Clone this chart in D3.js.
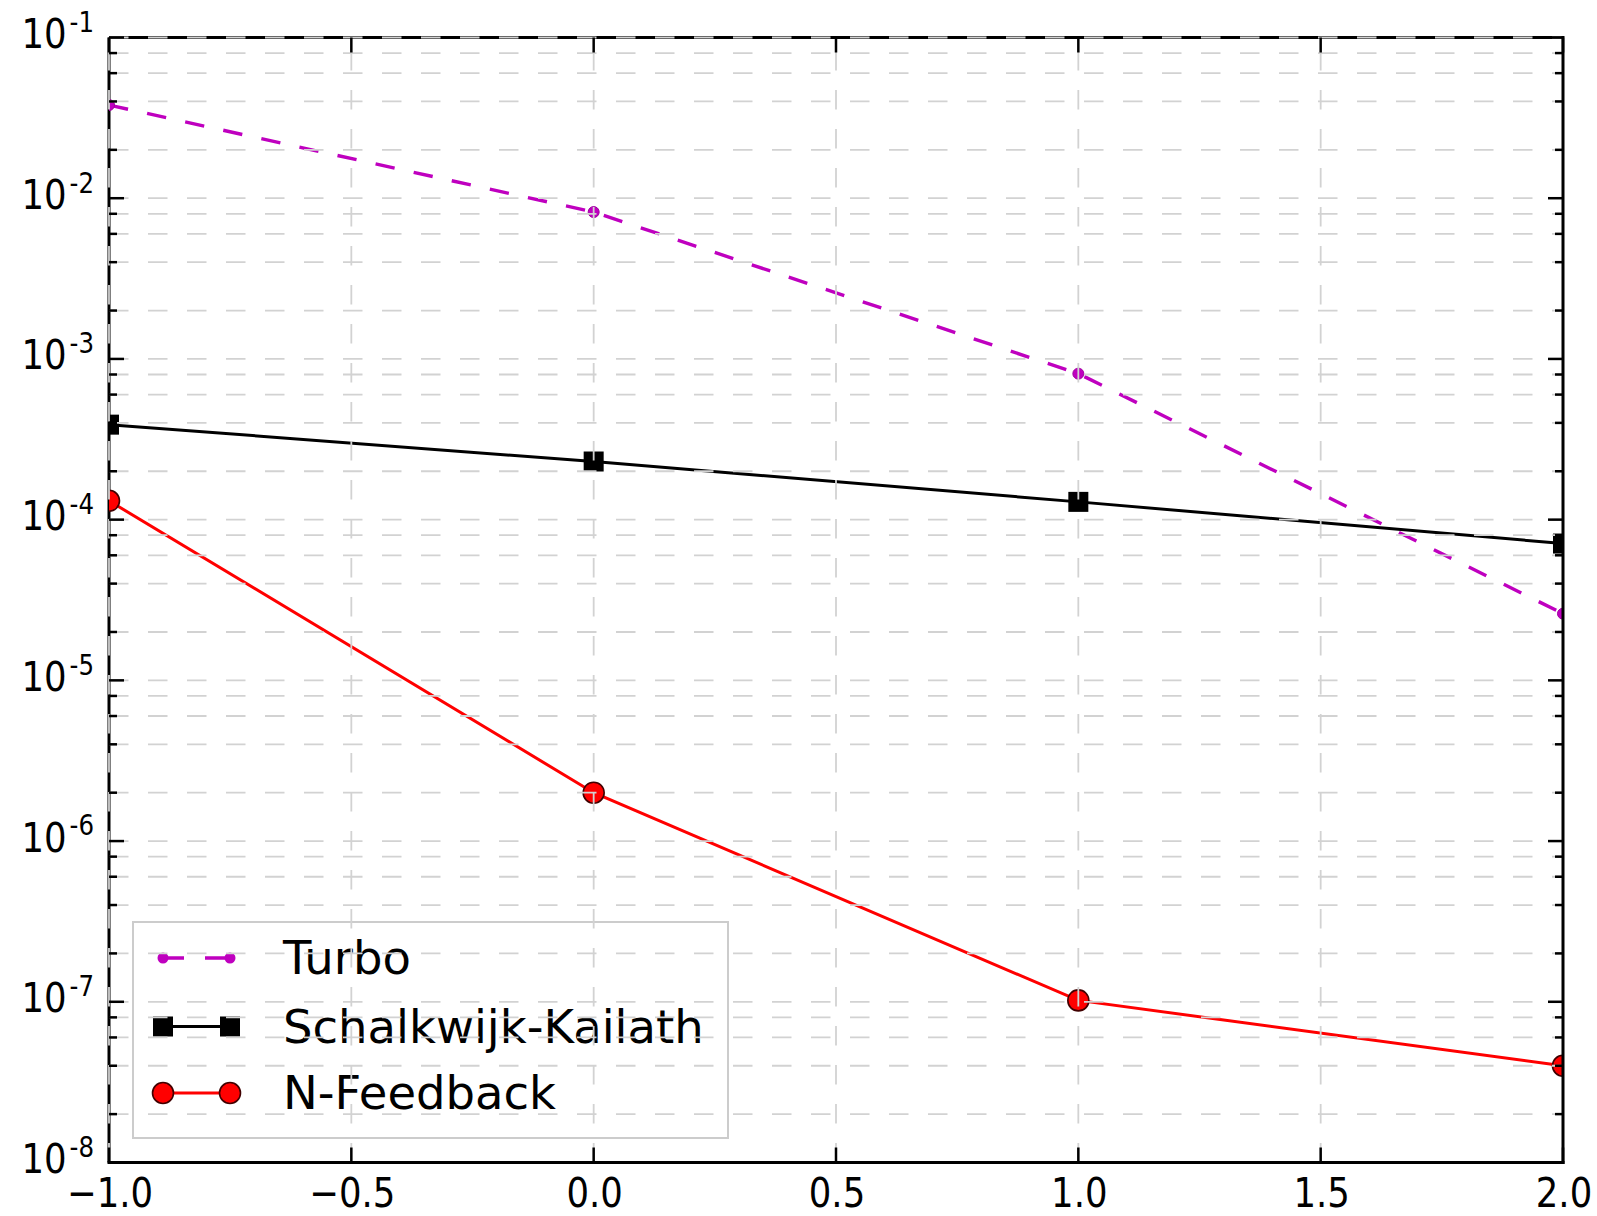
<!DOCTYPE html>
<html>
<head>
<meta charset="utf-8">
<script src="https://cdn.jsdelivr.net/npm/d3@7"></script>
<style>
  html, body { margin: 0; padding: 0; background: #fff; }
  svg { display: block; }
  text { font-family: "DejaVu Sans", sans-serif; fill: #000; }
</style>
</head>
<body>
<svg id="chart" width="1597" height="1216"></svg>
<script>
// ---- data ----
const snr = [-1, 0, 1, 2];
const turbo = [0.038, 0.0082, 0.00081, 2.6e-5];
const schalkwijk = [3.9e-4, 2.3e-4, 1.29e-4, 7.1e-5];
const nFeedback = [1.31e-4, 2.0e-6, 1.02e-7, 4.0e-8];
const seriesNames = ["Turbo", "Schalkwijk-Kailath", "N-Feedback"];
const xTicks = [-1, -0.5, 0, 0.5, 1, 1.5, 2];
const xTickLabels = ["\u22121.0", "\u22120.5", "0.0", "0.5", "1.0", "1.5", "2.0"];
const yExponents = [-8, -7, -6, -5, -4, -3, -2, -1];
const yMinorSubs = [2, 4, 6, 8];

// ---- layout ----
const L = 109, R = 1563, T = 37.5, B = 1162.5;
const svg = d3.select("#chart");
const x = d3.scaleLinear().domain([-1, 2]).range([L, R]);
const y = d3.scaleLog().domain([1e-8, 1e-1]).range([B, T]);

svg.append("rect").attr("width", 1597).attr("height", 1216).attr("fill", "#fff");

svg.append("clipPath").attr("id", "plotclip")
  .append("rect").attr("x", L).attr("y", T).attr("width", R - L).attr("height", B - T);

const majorY = yExponents.map(e => Math.pow(10, e));
const minorY = [];
yExponents.slice(0, -1).forEach(e => yMinorSubs.forEach(s => minorY.push(s * Math.pow(10, e))));

// top/left spines (drawn under grid)
svg.append("line").attr("x1", L).attr("x2", R).attr("y1", T).attr("y2", T)
  .attr("stroke", "#000").attr("stroke-width", 3);
svg.append("line").attr("x1", L).attr("x2", L).attr("y1", T).attr("y2", B)
  .attr("stroke", "#000").attr("stroke-width", 3);

// ---- series ----
const plot = svg.append("g").attr("clip-path", "url(#plotclip)");
const line = d3.line().x(d => x(d[0])).y(d => y(d[1]));
const zip = vals => snr.map((s, i) => [s, vals[i]]);

// Turbo
plot.append("path").datum(zip(turbo)).attr("d", line)
  .attr("fill", "none").attr("stroke", "#bf00bf").attr("stroke-width", 3.4)
  .attr("stroke-dasharray", "19.5,19.5");
plot.selectAll(".tm").data(zip(turbo)).join("circle")
  .attr("cx", d => x(d[0])).attr("cy", d => y(d[1])).attr("r", 5.5)
  .attr("fill", "#bf00bf").attr("stroke", "#a000a0").attr("stroke-width", 1);

// Schalkwijk-Kailath
plot.append("path").datum(zip(schalkwijk)).attr("d", line)
  .attr("fill", "none").attr("stroke", "#000").attr("stroke-width", 3);
plot.selectAll(".sm").data(zip(schalkwijk)).join("rect")
  .attr("x", d => x(d[0]) - 10).attr("y", d => y(d[1]) - 10)
  .attr("width", 20).attr("height", 20).attr("fill", "#000");

// N-Feedback
plot.append("path").datum(zip(nFeedback)).attr("d", line)
  .attr("fill", "none").attr("stroke", "#ff0000").attr("stroke-width", 3);
plot.selectAll(".nm").data(zip(nFeedback)).join("circle")
  .attr("cx", d => x(d[0])).attr("cy", d => y(d[1])).attr("r", 10.5)
  .attr("fill", "#ff0000").attr("stroke", "#400000").attr("stroke-width", 1.6);

// ---- legend ----
const leg = svg.append("g");
leg.append("rect").attr("x", 133).attr("y", 922).attr("width", 595).attr("height", 216)
  .attr("fill", "none").attr("stroke", "#cccccc").attr("stroke-width", 2);
const rows = [958, 1026.5, 1093];
const hx1 = 163, hx2 = 230, tx = 283;
// Turbo handle
leg.append("line").attr("x1", hx1).attr("x2", hx2).attr("y1", rows[0]).attr("y2", rows[0])
  .attr("stroke", "#bf00bf").attr("stroke-width", 3.4).attr("stroke-dasharray", "21,21");
[hx1, hx2].forEach(h => leg.append("circle").attr("cx", h).attr("cy", rows[0]).attr("r", 5.5).attr("fill", "#bf00bf"));
// SK handle
leg.append("line").attr("x1", hx1).attr("x2", hx2).attr("y1", rows[1]).attr("y2", rows[1])
  .attr("stroke", "#000").attr("stroke-width", 3);
[hx1, hx2].forEach(h => leg.append("rect").attr("x", h - 10).attr("y", rows[1] - 10).attr("width", 20).attr("height", 20).attr("fill", "#000"));
// NF handle
leg.append("line").attr("x1", hx1).attr("x2", hx2).attr("y1", rows[2]).attr("y2", rows[2])
  .attr("stroke", "#ff0000").attr("stroke-width", 3);
[hx1, hx2].forEach(h => leg.append("circle").attr("cx", h).attr("cy", rows[2]).attr("r", 10.5)
  .attr("fill", "#ff0000").attr("stroke", "#400000").attr("stroke-width", 1.6));
seriesNames.forEach((n, i) => leg.append("text").attr("x", tx).attr("y", rows[i] + 16)
  .attr("font-size", 46.5).text(n));

// ---- grid (drawn over data, classic style) ----
const grid = svg.append("g").attr("stroke", "#d2d2d2").attr("stroke-width", 1.8)
  .attr("stroke-dasharray", "19.5,19.5").attr("fill", "none");
majorY.concat(minorY).forEach(v => {
  grid.append("line").attr("x1", L).attr("x2", R).attr("y1", y(v)).attr("y2", y(v));
});
xTicks.forEach(t => {
  grid.append("line").attr("x1", x(t)).attr("x2", x(t)).attr("y1", B).attr("y2", T);
});

// right/bottom spines
svg.append("line").attr("x1", R).attr("x2", R).attr("y1", T - 1.5).attr("y2", B + 1.5)
  .attr("stroke", "#000").attr("stroke-width", 3);
svg.append("line").attr("x1", L - 1.5).attr("x2", R + 1.5).attr("y1", B).attr("y2", B)
  .attr("stroke", "#000").attr("stroke-width", 3);

// ---- ticks (inside, all sides) ----
const ticks = svg.append("g").attr("stroke", "#000").attr("stroke-width", 2.5);
majorY.forEach(v => {
  ticks.append("line").attr("x1", L).attr("x2", L + 15).attr("y1", y(v)).attr("y2", y(v));
  ticks.append("line").attr("x1", R).attr("x2", R - 15).attr("y1", y(v)).attr("y2", y(v));
});
minorY.forEach(v => {
  ticks.append("line").attr("x1", L).attr("x2", L + 8).attr("y1", y(v)).attr("y2", y(v));
  ticks.append("line").attr("x1", R).attr("x2", R - 8).attr("y1", y(v)).attr("y2", y(v));
});
xTicks.forEach(t => {
  ticks.append("line").attr("x1", x(t)).attr("x2", x(t)).attr("y1", B).attr("y2", B - 15);
  ticks.append("line").attr("x1", x(t)).attr("x2", x(t)).attr("y1", T).attr("y2", T + 15);
});

// ---- tick labels ----
yExponents.forEach(e => {
  const g = svg.append("g").attr("transform", `translate(94,${y(Math.pow(10, e)) + 10.5}) scale(1,1.15)`);
  const t = g.append("text").attr("text-anchor", "end").attr("font-size", 35.5);
  t.append("tspan").text("10");
  t.append("tspan").attr("font-size", 24.5).attr("dx", 3).attr("dy", -14).text(String(e));
});
xTicks.forEach((tk, i) => {
  svg.append("g").attr("transform", `translate(${x(tk) + 1},1207) scale(1,1.15)`)
    .append("text").attr("text-anchor", "middle").attr("font-size", 35.5).text(xTickLabels[i]);
});
</script>
</body>
</html>
